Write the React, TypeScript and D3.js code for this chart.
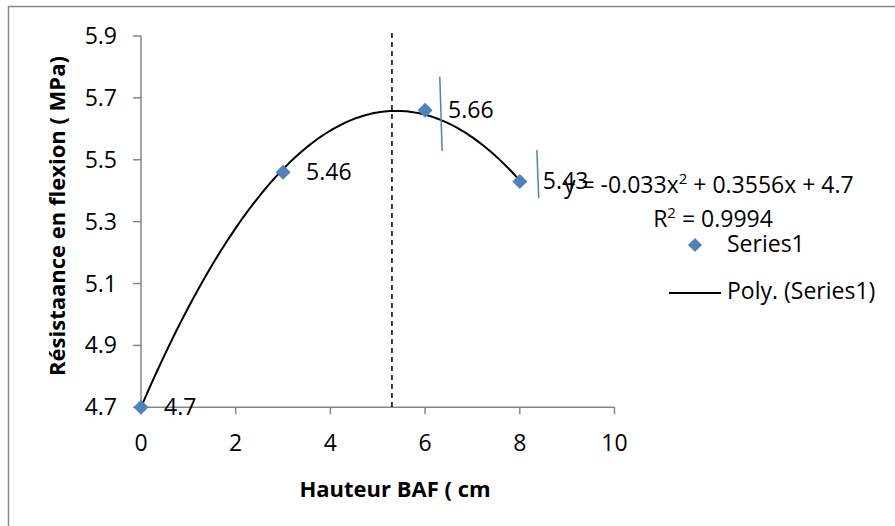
import React from "react";
import * as d3 from "d3";

const xValues = [0, 3, 6, 8];
const yValues = [4.7, 5.46, 5.66, 5.43];
const dataLabels = ["4.7", "5.46", "5.66", "5.43"];
const xTicks = [0, 2, 4, 6, 8, 10];
const yTicks = [4.7, 4.9, 5.1, 5.3, 5.5, 5.7, 5.9];
const polyCoefs = [4.7, 0.3556, -0.033]; // c0 + c1 x + c2 x^2
const dashedX = 5.3;
const blueLines = [
  [[6.31, 5.768], [6.36, 5.528]],
  [[8.36, 5.532], [8.40, 5.376]],
];

const W = 895;
const H = 526;
const FONT = "'Open Sans', 'Liberation Sans', sans-serif";
const FS = 23;

export default function App() {
  const x = d3.scaleLinear().domain([0, 10]).range([141, 614.5]);
  const y = d3.scaleLinear().domain([4.7, 5.9]).range([407.3, 36]);

  const curveXs = d3.range(0, 8.0001, 0.05);
  const line = d3
    .line<number>()
    .x((d) => x(d))
    .y((d) => y(polyCoefs[0] + polyCoefs[1] * d + polyCoefs[2] * d * d))
    .curve(d3.curveLinear);

  const axisColor = "#868686";
  const blue = "#4f81bd";
  const diamond = (cx: number, cy: number, r = 7.5) =>
    `M${cx},${cy - r}L${cx + r},${cy}L${cx},${cy + r}L${cx - r},${cy}Z`;

  return (
    <svg
      width={W}
      height={H}
      style={{ position: "absolute", left: 0, top: 0, background: "#fff" }}
      fontFamily={FONT}
    >
      <rect x={8.5} y={6.5} width={900} height={540} fill="#fff" stroke={axisColor} strokeWidth={1.5} />

      {/* y axis */}
      <line x1={x(0)} x2={x(0)} y1={y(5.9)} y2={y(4.7)} stroke={axisColor} strokeWidth={1.5} />
      {yTicks.map((t) => (
        <g key={"y" + t}>
          <line x1={x(0) - 8} x2={x(0)} y1={y(t)} y2={y(t)} stroke={axisColor} strokeWidth={1.5} />
          <text x={117} y={y(t) + 8} textAnchor="end" fontSize={FS} fill="#000">
            {t.toFixed(1)}
          </text>
        </g>
      ))}

      {/* x axis */}
      <line x1={x(0)} x2={x(10)} y1={y(4.7)} y2={y(4.7)} stroke={axisColor} strokeWidth={1.5} />
      {xTicks.map((t) => (
        <g key={"x" + t}>
          <line x1={x(t)} x2={x(t)} y1={y(4.7)} y2={y(4.7) + 7} stroke={axisColor} strokeWidth={1.5} />
          <text x={x(t)} y={451} textAnchor="middle" fontSize={FS} fill="#000">
            {t}
          </text>
        </g>
      ))}

      {/* axis titles */}
      <text x={395} y={497} textAnchor="middle" fontSize={22} fontWeight="bold" fill="#000">
        Hauteur BAF ( cm
      </text>
      <text
        transform={`translate(65,${216}) rotate(-90)`}
        textAnchor="middle"
        fontSize={22}
        fontWeight="bold"
        fill="#000"
      >
        Résistaance en flexion ( MPa)
      </text>

      {/* dashed vertical line */}
      <line x1={x(dashedX)} x2={x(dashedX)} y1={33} y2={y(4.7)} stroke="#000" strokeWidth={1.5} strokeDasharray="5,4" />

      {/* trend line */}
      <path d={line(curveXs) || ""} fill="none" stroke="#000" strokeWidth={2} />

      {/* markers */}
      {xValues.map((v, i) => (
        <path key={"m" + i} d={diamond(x(v), y(yValues[i]))} fill={blue} />
      ))}

      {/* data labels */}
      {xValues.map((v, i) => (
        <text key={"l" + i} x={x(v) + 23} y={y(yValues[i]) + 8} fontSize={FS} fill="#000">
          {dataLabels[i]}
        </text>
      ))}

      {/* blue lines */}
      {blueLines.map((l, i) => (
        <line
          key={"b" + i}
          x1={x(l[0][0])}
          y1={y(l[0][1])}
          x2={x(l[1][0])}
          y2={y(l[1][1])}
          stroke={blue}
          strokeWidth={1.5}
        />
      ))}

      {/* equation */}
      <text x={564} y={193} fontSize={FS} fill="#000">
        y = -0.033x<tspan fontSize={15} dy={-9}>2</tspan>
        <tspan dy={9}> + 0.3556x + 4.7</tspan>
      </text>
      <text x={713} y={227} textAnchor="middle" fontSize={FS} fill="#000">
        R<tspan fontSize={15} dy={-9}>2</tspan>
        <tspan dy={9}> = 0.9994</tspan>
      </text>

      {/* legend */}
      <path d={diamond(695, 245, 7)} fill={blue} />
      <text x={727} y={252} fontSize={FS} fill="#000">
        Series1
      </text>
      <line x1={669} x2={721} y1={293} y2={293} stroke="#000" strokeWidth={2} />
      <text x={727} y={299} fontSize={FS} fill="#000">
        Poly. (Series1)
      </text>
    </svg>
  );
}
